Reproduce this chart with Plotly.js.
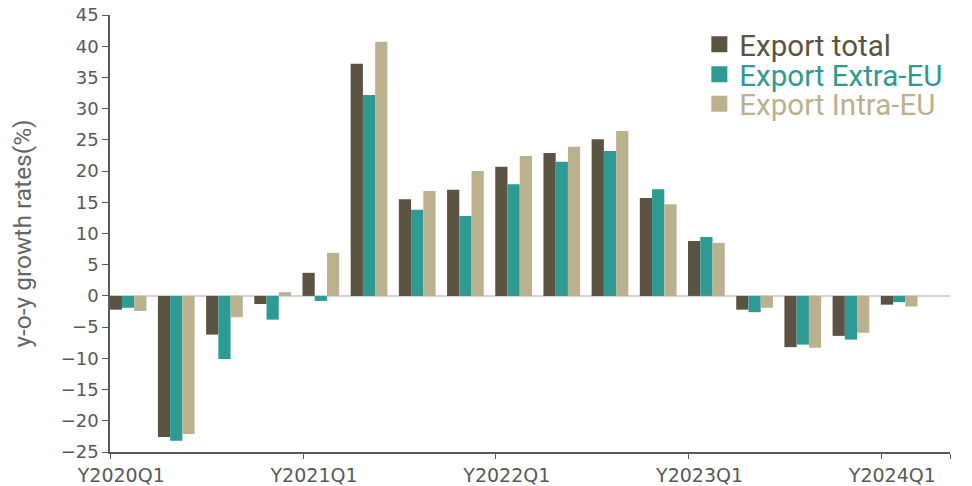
<!DOCTYPE html>
<html><head><meta charset="utf-8">
<script src="https://cdn.plot.ly/plotly-3.0.1.min.js"></script>
<style>html,body{margin:0;padding:0;background:#fff}</style>
</head><body>
<div id="chart" style="width:972px;height:486px"></div>
<script>
const quarters = ["Y2020Q1","Y2020Q2","Y2020Q3","Y2020Q4","Y2021Q1","Y2021Q2","Y2021Q3","Y2021Q4",
  "Y2022Q1","Y2022Q2","Y2022Q3","Y2022Q4","Y2023Q1","Y2023Q2","Y2023Q3","Y2023Q4","Y2024Q1"];
const exportTotal   = [-2.2,-22.6,-6.2,-1.3,3.7,37.2,15.5,17.0,20.7,22.9,25.1,15.7,8.8,-2.2,-8.2,-6.4,-1.4];
const exportExtraEU = [-1.9,-23.2,-10.1,-3.8,-0.8,32.2,13.8,12.8,17.9,21.5,23.2,17.1,9.45,-2.6,-7.8,-7.0,-1.0];
const exportIntraEU = [-2.4,-22.1,-3.4,0.6,6.9,40.7,16.8,20.0,22.4,23.9,26.4,14.7,8.5,-1.9,-8.3,-5.9,-1.7];
const seriesNames = ["Export total","Export Extra-EU","Export Intra-EU"];
const tickLabels = ["Y2020Q1","Y2021Q1","Y2022Q1","Y2023Q1","Y2024Q1"];
const yTitle = "y-o-y growth rates(%)";

const colors = ["#5c5443","#2e9a94","#bcb18f"];
const seriesValues = [exportTotal, exportExtraEU, exportIntraEU];
const xIdx = quarters.map((q,i)=>i);
const legendIds = ["legend","legend2","legend3"];

const traces = [];
seriesValues.forEach((vals,k)=>{
  traces.push({type:'bar', x:xIdx, y:vals, name:seriesNames[k], text:quarters, hovertemplate:'%{text}: %{y}<extra>'+seriesNames[k]+'</extra>',
    textposition:'none', marker:{color:colors[k]}, showlegend:false});
});
seriesValues.forEach((vals,k)=>{
  traces.push({type:'scatter', x:[null], y:[null], mode:'markers', name:seriesNames[k],
    marker:{symbol:'square', size:20, color:colors[k]}, legend:legendIds[k], showlegend:true, hoverinfo:'skip'});
});

const halfGroup = 0.37;
const xMax = 17.055;
const tickvals = tickLabels.map(l=>quarters.indexOf(l)-halfGroup).concat([xMax]);
const ticktext = tickLabels.concat([""]);

function leg(y,color){
  return {x:0.7016, xanchor:'left', y:y, yanchor:'middle', bgcolor:'rgba(0,0,0,0)', itemsizing:'trace',
    font:{family:'Roboto, sans-serif', size:29.5, color:color}};
}

const layout = {
  width:972, height:486,
  margin:{l:110, r:22, t:15, b:34},
  paper_bgcolor:'#fff', plot_bgcolor:'#fff',
  barmode:'group', bargap:0.238, bargroupgap:0,
  xaxis:{type:'linear', range:[-0.375, xMax], tickmode:'array', tickvals:tickvals, ticktext:ticktext,
    showgrid:false, zeroline:false, showline:true, linecolor:'#5a5a5a', linewidth:1.5,
    ticks:'outside', ticklen:5, tickcolor:'#5a5a5a', tickwidth:1, ticklabelshift:11,
    tickfont:{family:'DejaVu Sans', size:19, color:'#595959'}},
  yaxis:{range:[-25,45], dtick:5, tick0:0, showgrid:false, zeroline:true, zerolinecolor:'#d4d4d4', zerolinewidth:2,
    showline:true, linecolor:'#5a5a5a', linewidth:1.5, ticks:'outside', ticklen:6, tickcolor:'#5a5a5a',
    tickfont:{family:'DejaVu Sans', size:18, color:'#595959'},
    title:{text:yTitle, font:{family:'Roboto, sans-serif', size:24.5, color:'#666'}, standoff:22}},
  legend: leg(0.9325, colors[0]),
  legend2: leg(0.8638, colors[1]),
  legend3: leg(0.7963, colors[2]),
  showlegend:true
};

Plotly.newPlot('chart', traces, layout, {displayModeBar:false, responsive:false});
</script>
</body></html>
